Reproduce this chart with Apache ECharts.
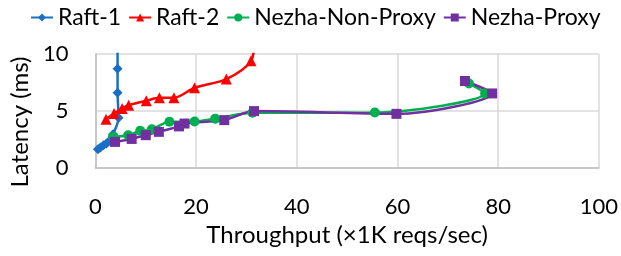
<!DOCTYPE html>
<html>
<head>
<meta charset="utf-8">
<script src="https://cdn.jsdelivr.net/npm/echarts@6/dist/echarts.min.js"></script>
<style>
  html, body { margin: 0; padding: 0; background: #fff; }
  #chart { width: 621px; height: 256px; }
</style>
</head>
<body>
<div id="chart"></div>
<script>
  // throughput (x1K reqs/sec) and latency (ms) pairs
  const raft1X = [0.5, 1.0, 1.6, 2.2, 2.8, 3.5, 4.6, 4.4, 4.4, 4.4];
  const raft1Y = [1.65, 1.8, 2.0, 2.15, 2.4, 2.95, 4.4, 6.6, 8.7, 14];
  const raft2X = [2.1, 3.7, 5.3, 6.6, 10.1, 12.7, 15.6, 19.7, 26.0, 30.9, 31.6];
  const raft2Y = [4.28, 4.78, 5.22, 5.51, 5.9, 6.16, 6.16, 7.04, 7.8, 9.4, 11.5];
  const nonProxyX = [3.5, 6.5, 8.9, 11.2, 14.7, 19.7, 23.8, 31.2, 55.5, 77.4, 74.2];
  const nonProxyY = [2.73, 2.87, 3.26, 3.4, 4.05, 4.08, 4.33, 4.84, 4.87, 6.54, 7.42];
  const proxyX = [3.9, 7.2, 10.0, 12.6, 16.6, 17.7, 25.6, 31.5, 59.8, 78.8, 73.4];
  const proxyY = [2.29, 2.55, 2.88, 3.17, 3.65, 3.9, 4.2, 4.99, 4.75, 6.54, 7.63];
  const xTicks = [0, 20, 40, 60, 80, 100];
  const yTicks = [0, 5, 10];

  const pairs = (xs, ys) => xs.map((x, i) => [x, ys[i]]);
  const font = 'Lato';

  const chart = echarts.init(document.getElementById('chart'));

  const mkSeries = (name, xs, ys, color, symbol, size) => ({
    name,
    type: 'line',
    data: pairs(xs, ys),
    smooth: 0.3,
    symbol,
    symbolSize: size,
    showAllSymbol: true,
    clip: true,
    lineStyle: { color, width: 2.5 },
    itemStyle: { color, borderWidth: 0 },
    emphasis: { disabled: true }
  });

  chart.setOption({
    animation: false,
    textStyle: { fontFamily: font },
    legend: {
      top: 1,
      left: 25,
      itemGap: 7,
      itemWidth: 22,
      itemHeight: 10,
      textStyle: { fontFamily: font, fontSize: 23, color: '#000' },
      data: ['Raft-1', 'Raft-2', 'Nezha-Non-Proxy', 'Nezha-Proxy']
    },
    grid: { left: 92, right: 19, top: 54, bottom: 88 },
    xAxis: {
      type: 'value',
      min: xTicks[0],
      max: xTicks[xTicks.length - 1],
      interval: 20,
      name: 'Throughput (×1K reqs/sec)',
      nameLocation: 'middle',
      nameGap: 55,
      nameTextStyle: { fontFamily: font, fontSize: 24, color: '#000' },
      axisLine: { show: true, lineStyle: { color: '#bfbfbf', width: 1.5 } },
      axisTick: { show: false },
      axisLabel: { fontFamily: font, fontSize: 22, color: '#000', margin: 28 },
      splitLine: { show: true, lineStyle: { color: '#d9d9d9', width: 1.5 } }
    },
    yAxis: {
      type: 'value',
      min: yTicks[0],
      max: yTicks[yTicks.length - 1],
      interval: 5,
      name: 'Latency (ms)',
      nameLocation: 'middle',
      nameGap: 58,
      nameTextStyle: { fontFamily: font, fontSize: 24, color: '#000', padding: [0, 22, 0, 0] },
      axisLine: { show: true, lineStyle: { color: '#bfbfbf', width: 1.5 } },
      axisTick: { show: false },
      axisLabel: { fontFamily: font, fontSize: 22, color: '#000', margin: 27 },
      splitLine: { show: true, lineStyle: { color: '#d9d9d9', width: 1.5 } }
    },
    series: [
      mkSeries('Raft-1', raft1X, raft1Y, '#1a6fc4', 'diamond', 10),
      mkSeries('Raft-2', raft2X, raft2Y, '#ff0000', 'triangle', 11),
      mkSeries('Nezha-Non-Proxy', nonProxyX, nonProxyY, '#00b050', 'circle', 10),
      mkSeries('Nezha-Proxy', proxyX, proxyY, '#7030a0', 'rect', 10)
    ]
  });
</script>
</body>
</html>
